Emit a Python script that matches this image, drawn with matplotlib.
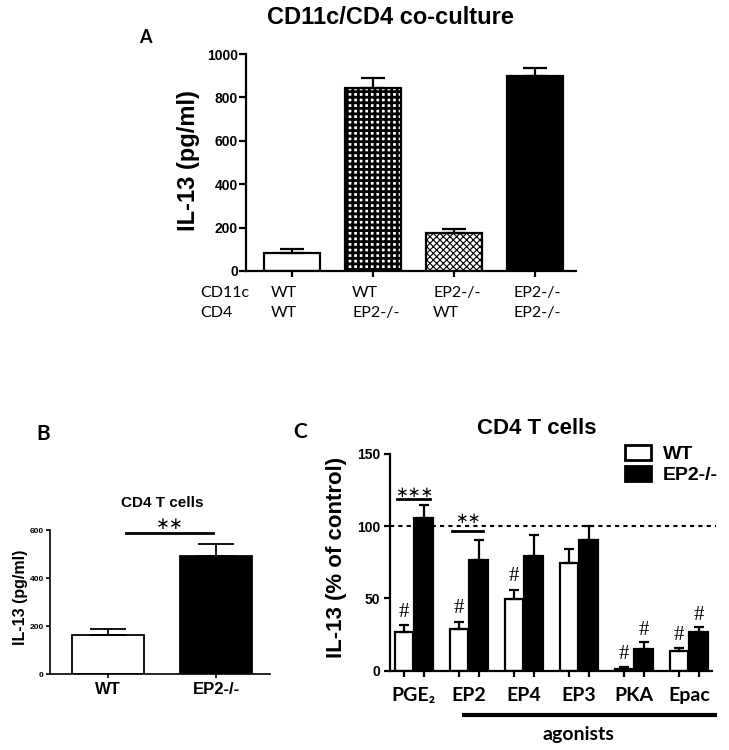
import numpy as np
import matplotlib
matplotlib.use("Agg")
import matplotlib.pyplot as plt
import matplotlib.transforms as mtrans
from matplotlib.patches import Patch

# panel A: CD11c/CD4 co-culture
a_cd11c = ["WT", "WT", "EP2-/-", "EP2-/-"]
a_cd4 = ["WT", "EP2-/-", "WT", "EP2-/-"]
a_mean = [83, 842, 174, 899]
a_sem = [17, 49, 18, 38]

# panel B: CD4 T cells, pg/ml
b_groups = ["WT", "EP2-/-"]
b_mean = [161, 492]
b_sem = [28, 50]

# panel C: CD4 T cells, % of control
c_groups = ["PGE\u2082", "EP2", "EP4", "EP3", "PKA", "Epac"]
c_wt = [26.5, 28.5, 49.9, 74.8, 1.5, 13.8]
c_wt_sem = [5.0, 5.3, 6.2, 9.4, 0.8, 1.6]
c_ko = [105.8, 76.8, 79.1, 90.2, 14.7, 26.5]
c_ko_sem = [8.5, 13.8, 14.5, 9.6, 4.9, 3.9]
c_wt_hash = [True, True, True, False, True, True]
c_ko_hash = [False, False, False, False, True, True]

ARIAL = "Liberation Sans"
CAL = ["Lato", "DejaVu Sans"]


def style_axes(ax, lw=1.5, tlen=4):
    for s in ("top", "right"):
        ax.spines[s].set_visible(False)
    for s in ("left", "bottom"):
        ax.spines[s].set_linewidth(lw)
    ax.tick_params(direction="out", width=lw, length=tlen, color="black")


def up_err(vals):
    return [np.zeros(len(vals)), np.array(vals)]


fig = plt.figure(figsize=(7.29, 7.5), dpi=100)

# ---------------- A ----------------
axA = fig.add_axes([0.338, 0.6387, 0.452, 0.2893])
xa = np.arange(len(a_mean))
barsA = axA.bar(xa, a_mean, 0.69, color=["white", "white", "white", "black"],
                edgecolor="black", linewidth=1.6, yerr=up_err(a_sem), capsize=8.5,
                error_kw=dict(elinewidth=1.6, capthick=1.6, ecolor="black"))
for p, h, hw in zip(barsA.patches, ["", "+++", "xxxxx", ""], [1, 2.0, 0.8, 1]):
    p.set_hatch(h)
    if hasattr(p, "set_hatch_linewidth"):
        p.set_hatch_linewidth(hw)
axA.set_xlim(-0.566, 3.505)
axA.set_ylim(0, 1000)
axA.set_yticks(np.arange(0, 1001, 200))
axA.set_xticks(xa)
axA.set_xticklabels([])
style_axes(axA, 1.6, 4)
axA.tick_params(axis="y", pad=1, length=5)
for t in axA.get_yticklabels():
    t.set_fontfamily(ARIAL)
    t.set_fontweight("bold")
    t.set_fontsize(10)
axA.set_ylabel("IL-13 (pg/ml)", fontsize=17, fontweight="bold", family=ARIAL)
axA.yaxis.set_label_coords(-0.14, 0.51)
axA.text(0.438, 1.166, "CD11c/CD4 co-culture", transform=axA.transAxes, ha="center",
         va="center", fontsize=17, fontweight="bold", family=ARIAL)
axA.text(-0.308, 1.078, "A", transform=axA.transAxes, ha="center", va="center",
         fontsize=13, fontweight="bold", family=CAL)
trA = mtrans.blended_transform_factory(axA.transData, axA.transAxes)
axA.text(-1.14, -0.101, "CD11c", transform=trA, ha="left", va="center", fontsize=11.5, family=CAL)
axA.text(-1.14, -0.194, "CD4", transform=trA, ha="left", va="center", fontsize=11.5, family=CAL)
for i in range(len(a_mean)):
    axA.text(xa[i] - 0.26, -0.101, a_cd11c[i], transform=trA, ha="left", va="center",
             fontsize=11.5, family=CAL)
    axA.text(xa[i] - 0.26, -0.194, a_cd4[i], transform=trA, ha="left", va="center",
             fontsize=11.5, family=CAL)

# ---------------- B ----------------
axB = fig.add_axes([0.0686, 0.1013, 0.3018, 0.192])
xb = np.arange(len(b_mean))
axB.bar(xb, b_mean, 0.667, color=["white", "black"], edgecolor="black", linewidth=1.3,
        yerr=up_err(b_sem), capsize=13,
        error_kw=dict(elinewidth=1.3, capthick=1.3, ecolor="black"))
axB.set_xlim(-0.537, 1.5)
axB.set_ylim(0, 600)
axB.set_yticks([0, 200, 400, 600])
axB.set_xticks(xb)
axB.set_xticklabels(b_groups, fontsize=12, fontweight="bold", family=ARIAL)
style_axes(axB, 1.2, 3)
axB.tick_params(axis="x", pad=3)
axB.tick_params(axis="y", pad=1.5)
for t in axB.get_yticklabels():
    t.set_fontfamily(ARIAL)
    t.set_fontweight("bold")
    t.set_fontsize(6)
axB.set_ylabel("IL-13 (pg/ml)", fontsize=11.5, fontweight="bold", family=ARIAL)
axB.yaxis.set_label_coords(-0.1, 0.53)
axB.text(0.509, 1.1875, "CD4 T cells", transform=axB.transAxes, ha="center", va="center",
         fontsize=11, fontweight="bold", family=ARIAL)
axB.text(-0.03, 1.67, "B", transform=axB.transAxes, ha="center", va="center",
         fontsize=15, fontweight="bold", family=CAL)
axB.plot([0.167, 0.972], [587.5, 587.5], color="black", lw=2, clip_on=False)
axB.text(0.574, 627, "\u2217\u2217", ha="center", va="center", fontsize=12,
         family="DejaVu Sans", clip_on=False)

# ---------------- C ----------------
axC = fig.add_axes([0.535, 0.1057, 0.4417, 0.2893])
xc = np.arange(len(c_groups))
off, w = 0.18, 0.34
axC.plot([-0.435, 5.49], [100, 100], color="black", lw=1.5, ls=(0, (2, 2)),
         clip_on=False, zorder=0.5)
axC.bar(xc - off, c_wt, w, color="white", edgecolor="black", linewidth=1.6,
        yerr=up_err(c_wt_sem), capsize=3.3,
        error_kw=dict(elinewidth=1.6, capthick=1.6, ecolor="black"))
axC.bar(xc + off, c_ko, w, color="black", edgecolor="black", linewidth=1.6,
        yerr=up_err(c_ko_sem), capsize=3.3,
        error_kw=dict(elinewidth=1.6, capthick=1.6, ecolor="black"))
axC.set_xlim(-0.435, 5.42)
axC.set_ylim(0, 150)
axC.set_yticks([0, 50, 100, 150])
axC.set_xticks(np.sort(np.concatenate([xc - off, xc + off])))
axC.set_xticklabels([])
style_axes(axC, 1.6, 4)
axC.tick_params(axis="y", pad=3)
for t in axC.get_yticklabels():
    t.set_fontfamily(ARIAL)
    t.set_fontweight("bold")
    t.set_fontsize(10)
axC.set_ylabel("IL-13 (% of control)", fontsize=16, fontweight="bold", family=ARIAL)
axC.yaxis.set_label_coords(-0.134, 0.52)
axC.text(0.457, 1.117, "CD4 T cells", transform=axC.transAxes, ha="center", va="center",
         fontsize=16, fontweight="bold", family=ARIAL)
axC.text(-0.28, 1.10, "C", transform=axC.transAxes, ha="center", va="center",
         fontsize=15, fontweight="bold", family=CAL)

trC = mtrans.blended_transform_factory(axC.transData, axC.transAxes)
for i, g in enumerate(c_groups):
    axC.text(xc[i], -0.112, g, transform=trC, ha="center", va="center",
             fontsize=14, fontweight="bold", family=CAL)
axC.plot([0.87, 5.51], [-0.204, -0.204], transform=trC, color="black", lw=3,
         clip_on=False, solid_capstyle="butt")
axC.text(3.0, -0.296, "agonists", transform=trC, ha="center", va="center",
         fontsize=14, fontweight="bold", family=CAL)

for i in range(len(c_groups)):
    if c_wt_hash[i]:
        axC.text(xc[i] - off, c_wt[i] + c_wt_sem[i] + 9, "#", ha="center", va="center",
                 fontsize=15, family="Liberation Serif")
    if c_ko_hash[i]:
        axC.text(xc[i] + off, c_ko[i] + c_ko_sem[i] + 8, "#", ha="center", va="center",
                 fontsize=15, family="Liberation Serif")

axC.plot([-0.31, 0.29], [118.5, 118.5], color="black", lw=2, clip_on=False)
axC.text(0.0, 123.5, "\u2217\u2217\u2217", ha="center", va="center", fontsize=11,
         family="DejaVu Sans")
axC.plot([0.69, 1.25], [96.6, 96.6], color="black", lw=2, clip_on=False)
axC.text(0.98, 105, "\u2217\u2217", ha="center", va="center", fontsize=11,
         family="DejaVu Sans")

handles = [Patch(facecolor="white", edgecolor="black", linewidth=2),
           Patch(facecolor="black", edgecolor="black", linewidth=2)]
axC.legend(handles, ["WT", "EP2-/-"], loc="upper left", bbox_to_anchor=(0.73, 1.039),
           frameon=False, prop=dict(family=ARIAL, weight="bold", size=14),
           handlelength=1.34, handleheight=0.78, handletextpad=0.62,
           labelspacing=0.15, borderpad=0, borderaxespad=0)

fig.savefig("out.png", dpi=100)
